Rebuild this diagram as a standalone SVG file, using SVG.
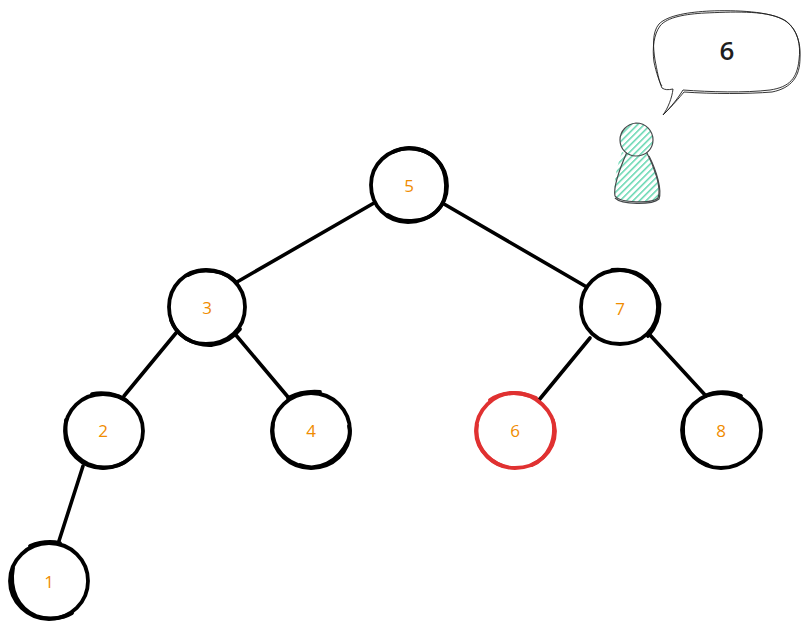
<svg xmlns="http://www.w3.org/2000/svg" width="810" height="628" viewBox="0 0 810 628">
<style>
.e{fill:none;stroke:#000;stroke-width:3.6;stroke-linecap:round}
.c{fill:none;stroke:#000;stroke-width:3.8;stroke-linecap:round}
.r{stroke:#e03131}
.t{font-family:"Open Sans","Liberation Sans",sans-serif;font-size:17px;fill:#f08c00;text-anchor:middle}
.o{fill:none;stroke:#1e1e1e;stroke-width:.9;stroke-linejoin:round}
.p{fill:none;stroke:#45494b;stroke-width:1.2}
</style>
<defs>
<pattern id="hatch" patternUnits="userSpaceOnUse" width="4.6" height="4.6" patternTransform="rotate(45)">
<rect width="4.6" height="4.6" fill="#fff"/>
<line x1="0" y1="0" x2="0" y2="4.6" stroke="#63d6b0" stroke-width="3"/>
</pattern>
</defs>
<rect width="810" height="628" fill="#fff"/>
<g id="connectors">
<path class="e" d="M374 203L237 282"/>
<path class="e" d="M444 204L585 286"/>
<path class="e" d="M176 333L124 396"/>
<path class="e" d="M235 334L288 397"/>
<path class="e" d="M590 338L539 400"/>
<path class="e" d="M650 335L706 396"/>
<path class="e" d="M83 466L58 544"/>
</g>
<g id="node-5">
<path class="c" d="M409 148C431 148 447 165 447 186C447 207 430 222 408 222C387 222 371 206 371 185C371 164 388 149 409 148Z"/>
<path class="c" d="M393 152C405 146 425 147 436 159C449 172 449 198 438 210C426 223 402 224 388 215"/>
<text class="t" x="409" y="192">5</text>
</g>
<g id="node-3">
<path class="c" d="M206 270C228 270 245 286 245 307C245 329 228 344 206 344C185 344 169 328 169 307C169 286 185 270 206 270Z"/>
<path class="c" d="M188 275C202 267 226 270 237 283M171 320C176 336 194 346 212 345C224 343 234 337 240 329"/>
<text class="t" x="207" y="314">3</text>
</g>
<g id="node-7">
<path class="c" d="M620 270C642 270 658 286 658 307C658 329 642 344 620 344C598 344 581 329 581 307C581 286 598 270 620 270Z"/>
<path class="c" d="M612 270C634 267 656 283 659.500 304C660 318 655 328 648 336"/>
<text class="t" x="620" y="315">7</text>
</g>
<g id="node-2">
<path class="c" d="M103 394C125 394 143 410 143 431C143 452 125 468 103 468C82 468 65 452 65 431C65 410 82 394 103 394Z"/>
<path class="c" d="M66 420C63 441 72 456 88 464C104 471 122 467 132 456M92 394C102 392 116 393 127 401"/>
<text class="t" x="103" y="437">2</text>
</g>
<g id="node-4">
<path class="c" d="M311 393C333 393 350 410 350 431C350 452 333 468 311 468C290 468 272 452 272 431C272 410 290 393 311 393Z"/>
<path class="c" d="M288 398C298 393 308 391 320 392M300 465C318 472 338 462 348 441C350 436 350 430 349 426M273 424C270 442 280 458 298 465"/>
<text class="t" x="311" y="437">4</text>
</g>
<g id="node-6">
<path class="c r" d="M514 393C536 393 554 411 555 431C555 452 537 468 515 468C494 468 476 451 476 431C476 410 494 393 514 393Z"/>
<path class="c r" d="M490 400C503 391 520 391 536 398M477 425C474 444 486 460 503 466M553 420C557 440 548 458 532 465"/>
<text class="t" x="515" y="437">6</text>
</g>
<g id="node-8">
<path class="c" d="M721 393C743 393 761 410 761 430C761 451 743 468 721 468C700 468 682 451 682 430C682 410 700 393 721 393Z"/>
<path class="c" d="M705 396C715 391 730 391 741 396M684 420C680 440 688 458 708 465"/>
<text class="t" x="721" y="437">8</text>
</g>
<g id="node-1">
<path class="c" d="M49 543C71 543 88 560 88 581C88 602 71 619 49 619C28 619 10 602 10 581C10 560 28 543 49 543Z"/>
<path class="c" d="M30 546C40 542 50 541 60 543M13 568C9 590 18 608 36 616C48 620 62 619 72 613"/>
<text class="t" x="49" y="588">1</text>
</g>
<g id="speech-bubble">
<path class="o" d="M663 115C672 106 678 98 683 90C710 92 745 93 770 90C790 87 797 78 799 60C801 45 798 30 786 21C770 11 735 10 710 11C690 12 668 15 659 24C652 32 653 47 655 60C657 70 659 82 662 88C665 90 668 90 673 89C672 98 668 108 663 115Z" fill="#fff"/>
<path class="o" d="M664 114C673 105 679 98 684 92C712 94 748 94 772 92C792 88 800 76 800 58C801 42 796 26 782 19C765 10 730 12 705 13C686 14 667 17 660 26C654 34 652 48 654 62C656 72 660 84 662 86"/>
<text x="727" y="60" font-family="'Open Sans','Liberation Sans',sans-serif" font-size="26" font-weight="600" fill="#1e1e1e" text-anchor="middle">6</text>
</g>
<g id="person">
<path d="M622 152C616 168 613 186 615 196C620 203 652 204 658 198C662 188 654 166 646 151C640 155 630 156 622 152Z" fill="url(#hatch)"/>
<path class="p" d="M627 152C620 168 613 186 615 196C620 203 652 204 658 198C662 188 654 166 646 151"/>
<path class="p" d="M615 198C622 205 652 205 659 199C662 190 657 172 649 156"/>
<path d="M636 123C646 123 653 131 653 140C653 149 646 156 636 156C627 156 620 149 620 140C620 131 627 123 636 123Z" fill="url(#hatch)"/>
<path class="p" d="M636 123C646 123 653 131 653 140C653 149 646 156 636 156C627 156 620 149 620 140C620 131 627 124 636 123Z"/>
</g>
</svg>
